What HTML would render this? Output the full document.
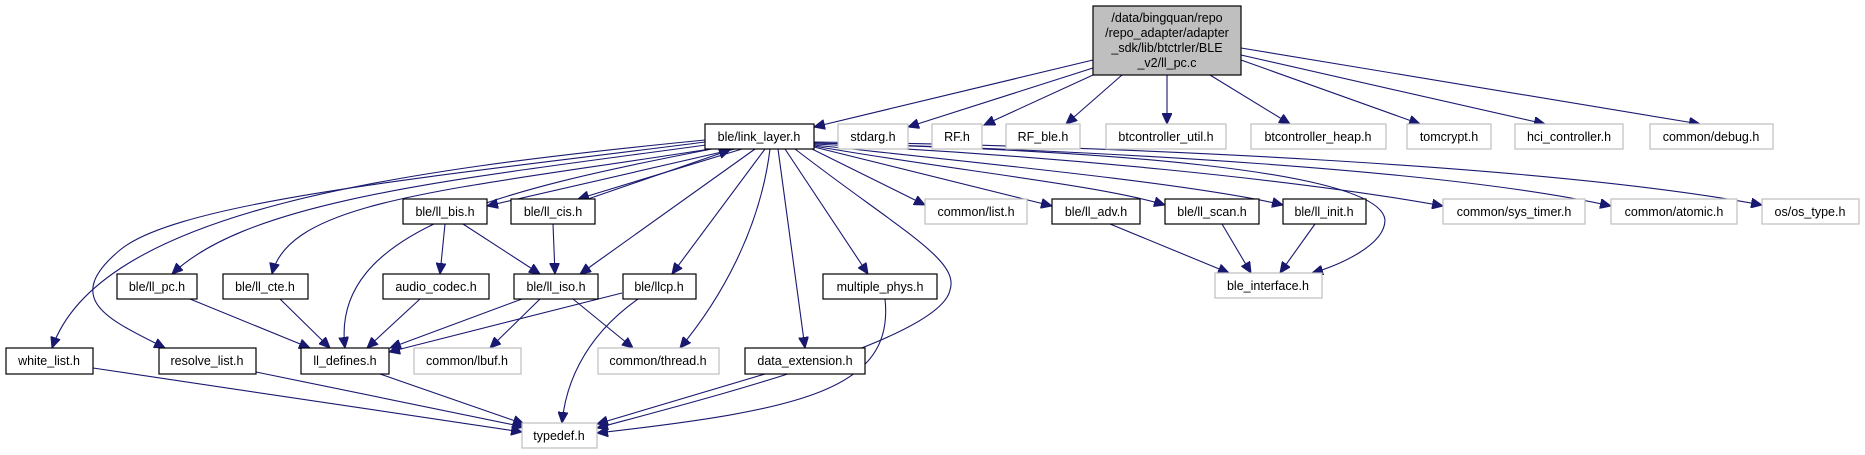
<!DOCTYPE html>
<html><head><meta charset="utf-8"><style>
html,body{margin:0;padding:0;background:#fff;}
svg{display:block;}
text{font-family:"Liberation Sans",sans-serif;font-size:12.5px;fill:#000;text-anchor:middle;}
.b{fill:#fff;stroke:#000;stroke-width:1.2;}
.g{fill:#fff;stroke:#bfbfbf;stroke-width:1.2;}
path.e{fill:none;stroke:#191970;stroke-width:1.1;marker-end:url(#a);}
</style></head><body>
<svg width="1865" height="455" viewBox="0 0 1865 455" xmlns="http://www.w3.org/2000/svg">
<defs><marker id="a" markerUnits="userSpaceOnUse" markerWidth="12" markerHeight="10" refX="11" refY="5" orient="auto"><path d="M0,0 L11,5 L0,10 z" fill="#191970" stroke="#191970"/></marker></defs>
<!-- edges from root -->
<path class="e" d="M1093,60 L814,127"/>
<path class="e" d="M1093,68 L908,127"/>
<path class="e" d="M1093,75 L984,125"/>
<path class="e" d="M1122,75 L1066,124"/>
<path class="e" d="M1167,75 L1167,124"/>
<path class="e" d="M1210,75 L1290,124"/>
<path class="e" d="M1241,60 L1420,124"/>
<path class="e" d="M1241,55 L1545,124"/>
<path class="e" d="M1241,48 L1700,124"/>
<!-- edges from link_layer -->
<path class="e" d="M705,140 C400,170 100,210 52,348"/>
<path class="e" d="M705,142 C450,175 180,200 120,250 S110,320 165,348"/>
<path class="e" d="M706,145 C450,180 250,200 172,274"/>
<path class="e" d="M710,149 C450,190 290,200 272,274"/>
<path class="e" d="M712,149 C500,190 330,230 345,348"/>
<path class="e" d="M735,149 L487,206"/>
<path class="e" d="M742,149 L578,199"/>
<path class="e" d="M588,199 L730,150"/>
<path class="e" d="M755,149 L580,274"/>
<path class="e" d="M765,149 L672,274"/>
<path class="e" d="M770,149 C760,230 720,300 680,348"/>
<path class="e" d="M778,149 L805,348"/>
<path class="e" d="M785,149 L868,274"/>
<path class="e" d="M795,149 C900,230 960,260 950,290 C940,340 700,400 597,428"/>
<path class="e" d="M812,149 L925,205"/>
<path class="e" d="M814,147 L1052,206"/>
<path class="e" d="M814,146 C950,170 1100,185 1165,205"/>
<path class="e" d="M814,145 C1000,165 1200,185 1283,205"/>
<path class="e" d="M814,143 C1100,150 1380,170 1385,220 C1385,245 1340,265 1312,273"/>
<path class="e" d="M814,144 C1050,155 1300,180 1443,206"/>
<path class="e" d="M814,143 C1100,150 1450,170 1611,206"/>
<path class="e" d="M814,142 C1100,145 1550,165 1762,205"/>
<!-- other edges -->
<path class="e" d="M445,224 L440,274"/>
<path class="e" d="M463,224 L540,274"/>
<path class="e" d="M553,224 L555,274"/>
<path class="e" d="M190,299 L310,348"/>
<path class="e" d="M280,299 L330,348"/>
<path class="e" d="M420,299 L367,348"/>
<path class="e" d="M522,299 L390,348"/>
<path class="e" d="M540,299 L490,348"/>
<path class="e" d="M573,299 L633,348"/>
<path class="e" d="M622,293 L389,352"/>
<path class="e" d="M638,299 C580,340 565,390 562,423"/>
<path class="e" d="M93,368 L522,432"/>
<path class="e" d="M256,372 L524,427"/>
<path class="e" d="M380,374 L524,424"/>
<path class="e" d="M765,374 L597,424"/>
<path class="e" d="M885,299 C895,390 800,410 597,433"/>
<path class="e" d="M1110,224 L1229,273"/>
<path class="e" d="M1222,224 L1251,273"/>
<path class="e" d="M1315,224 L1280,273"/>
<!-- root -->
<rect x="1093" y="6" width="148" height="69" fill="#bfbfbf" stroke="#000" stroke-width="1.2"/>
<text x="1167" y="22">/data/bingquan/repo</text>
<text x="1167" y="37">/repo_adapter/adapter</text>
<text x="1167" y="52">_sdk/lib/btctrler/BLE</text>
<text x="1167" y="67">_v2/ll_pc.c</text>
<!-- row1 -->
<rect class="b" x="705" y="124" width="109" height="25"/><text x="759" y="141">ble/link_layer.h</text>
<rect class="g" x="838" y="124" width="70" height="25"/><text x="873" y="141">stdarg.h</text>
<rect class="g" x="932" y="124" width="50" height="25"/><text x="957" y="141">RF.h</text>
<rect class="g" x="1006" y="124" width="74" height="25"/><text x="1043" y="141">RF_ble.h</text>
<rect class="g" x="1106" y="124" width="120" height="25"/><text x="1166" y="141">btcontroller_util.h</text>
<rect class="g" x="1251" y="124" width="135" height="25"/><text x="1318" y="141">btcontroller_heap.h</text>
<rect class="g" x="1407" y="124" width="84" height="25"/><text x="1449" y="141">tomcrypt.h</text>
<rect class="g" x="1515" y="124" width="108" height="25"/><text x="1569" y="141">hci_controller.h</text>
<rect class="g" x="1650" y="124" width="123" height="25"/><text x="1711" y="141">common/debug.h</text>
<!-- row2 -->
<rect class="b" x="403" y="199" width="84" height="25"/><text x="445" y="216">ble/ll_bis.h</text>
<rect class="b" x="511" y="199" width="84" height="25"/><text x="553" y="216">ble/ll_cis.h</text>
<rect class="g" x="925" y="199" width="102" height="25"/><text x="976" y="216">common/list.h</text>
<rect class="b" x="1052" y="199" width="88" height="25"/><text x="1096" y="216">ble/ll_adv.h</text>
<rect class="b" x="1165" y="199" width="94" height="25"/><text x="1212" y="216">ble/ll_scan.h</text>
<rect class="b" x="1283" y="199" width="83" height="25"/><text x="1324" y="216">ble/ll_init.h</text>
<rect class="g" x="1443" y="199" width="142" height="25"/><text x="1514" y="216">common/sys_timer.h</text>
<rect class="g" x="1611" y="199" width="126" height="25"/><text x="1674" y="216">common/atomic.h</text>
<rect class="g" x="1762" y="199" width="97" height="25"/><text x="1810" y="216">os/os_type.h</text>
<!-- row3 -->
<rect class="b" x="117" y="274" width="80" height="25"/><text x="157" y="291">ble/ll_pc.h</text>
<rect class="b" x="223" y="274" width="85" height="25"/><text x="265" y="291">ble/ll_cte.h</text>
<rect class="b" x="383" y="274" width="106" height="25"/><text x="436" y="291">audio_codec.h</text>
<rect class="b" x="514" y="274" width="84" height="25"/><text x="556" y="291">ble/ll_iso.h</text>
<rect class="b" x="623" y="274" width="73" height="25"/><text x="659" y="291">ble/llcp.h</text>
<rect class="b" x="823" y="274" width="114" height="25"/><text x="880" y="291">multiple_phys.h</text>
<rect class="g" x="1215" y="273" width="107" height="25"/><text x="1268" y="290">ble_interface.h</text>
<!-- row4 -->
<rect class="b" x="6" y="348" width="87" height="26"/><text x="49" y="365">white_list.h</text>
<rect class="b" x="159" y="348" width="97" height="26"/><text x="207" y="365">resolve_list.h</text>
<rect class="b" x="301" y="348" width="88" height="26"/><text x="345" y="365">ll_defines.h</text>
<rect class="g" x="414" y="348" width="107" height="26"/><text x="467" y="365">common/lbuf.h</text>
<rect class="g" x="598" y="348" width="121" height="26"/><text x="658" y="365">common/thread.h</text>
<rect class="b" x="745" y="348" width="120" height="26"/><text x="805" y="365">data_extension.h</text>
<!-- typedef -->
<rect class="g" x="522" y="423" width="75" height="25"/><text x="559" y="440">typedef.h</text>
</svg>
</body></html>
